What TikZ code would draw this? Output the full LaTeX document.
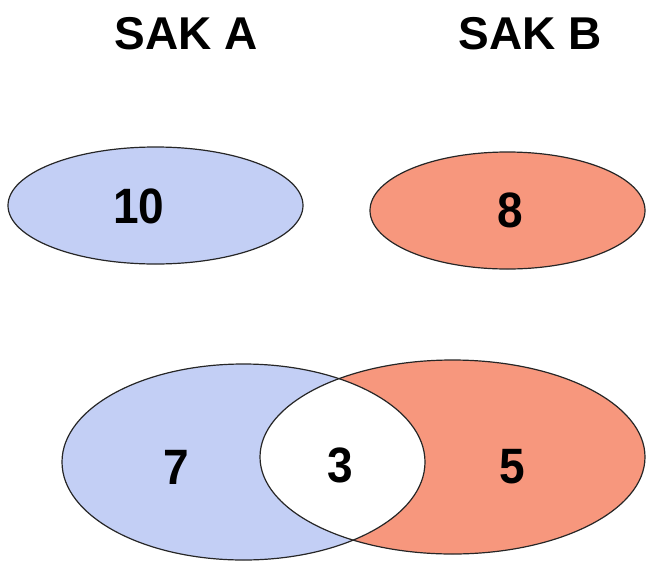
\documentclass[tikz,border=0pt]{standalone}
\usepackage{fontspec}
\setmainfont{Liberation Sans}
\definecolor{setA}{HTML}{C3CFF5}
\definecolor{setB}{HTML}{F7977D}
\begin{document}
\begin{tikzpicture}[x=0.75pt,y=-0.75pt,
  lbl/.style={font=\fontsize{34.5}{38}\selectfont\bfseries, inner sep=0pt},
  num/.style={lbl, yscale=1.08},
  outline/.style={draw=black!85, line width=0.9pt}]
\useasboundingbox (0,0) rectangle (657,561);
% titles
\node[lbl] (ta) at (186,34) {SAK A};
\node[lbl] (tb) at (530,34) {SAK B};
% top ellipses
\draw[outline, fill=setA] (155.5,205.5) ellipse [x radius=147.5, y radius=58.5];
\draw[outline, fill=setB] (507.5,210.5) ellipse [x radius=137.5, y radius=58.5];
\node[num] (n10) at (139,206) {10};
\node[num] (n8) at (510,210) {8};
% bottom venn
\fill[setA] (243.5,462) ellipse [x radius=181.5, y radius=98];
\fill[setB] (452.5,457) ellipse [x radius=192.5, y radius=97];
\begin{scope}
  \clip (243.5,462) ellipse [x radius=181.5, y radius=98];
  \fill[white] (452.5,457) ellipse [x radius=192.5, y radius=97];
\end{scope}
\draw[outline] (243.5,462) ellipse [x radius=181.5, y radius=98];
\draw[outline] (452.5,457) ellipse [x radius=192.5, y radius=97];
\node[num] (n7) at (176,467) {7};
\node[num] (n3) at (340,465) {3};
\node[num] (n5) at (512,467) {5};
\end{tikzpicture}
\end{document}
